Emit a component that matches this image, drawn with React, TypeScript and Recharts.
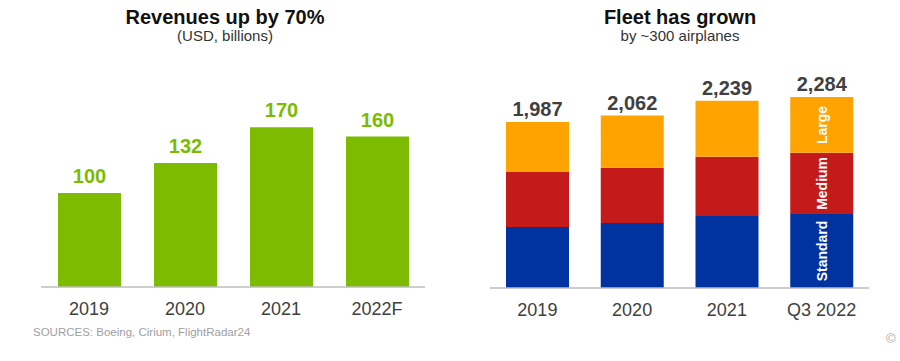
import { BarChart, Bar, XAxis, YAxis, LabelList } from 'recharts';

// revenues, USD billions
const revenueYears = ['2019', '2020', '2021', '2022F'];
const revenues = [100, 132, 170, 160];

// fleet by segment
const fleetYears = ['2019', '2020', '2021', 'Q3 2022'];
const fleetTotals = [1987, 2062, 2239, 2284];
const standardFleet = [730, 778, 862, 886];
const mediumFleet = [659, 659, 707, 731];
const largeFleet = [598, 625, 670, 667];
const segmentNames = ['Standard', 'Medium', 'Large'];

const revenueData = revenueYears.map((year, i) => ({ year, revenue: revenues[i] }));
const fleetData = fleetYears.map((year, i) => ({
  year,
  standard: standardFleet[i],
  medium: mediumFleet[i],
  large: largeFleet[i],
  total: fleetTotals[i],
}));

const FONT = '"Liberation Sans", Arial, sans-serif';
const GREEN = '#7cbb00';
const BLUE = '#0033a0';
const RED = '#c41a1a';
const ORANGE = '#ffa300';
const AXIS = '#bdbdbd';
const TEXT = '#404040';

const titleStyle = {
  position: 'absolute' as const,
  width: 450,
  textAlign: 'center' as const,
  fontFamily: FONT,
  color: '#111',
};

const segmentLabel = (name: string) => (props: any) => {
  const { x, y, width, height, index } = props;
  if (index !== fleetData.length - 1) return null;
  const cx = x + width / 2;
  const cy = y + height / 2;
  return (
    <text
      x={cx}
      y={cy}
      transform={`rotate(-90, ${cx}, ${cy})`}
      textAnchor="middle"
      dominantBaseline="central"
      fill="#fff"
      fontSize={14}
      fontWeight="bold"
      fontFamily={FONT}
    >
      {name}
    </text>
  );
};

export default function App() {
  return (
    <div style={{ position: 'absolute', left: 0, top: 0, width: 900, height: 361, overflow: 'hidden', background: '#fff', fontFamily: FONT }}>
      <div style={{ ...titleStyle, left: 0, top: 6, fontSize: 20, fontWeight: 'bold' }}>Revenues up by 70%</div>
      <div style={{ ...titleStyle, left: 0, top: 27, fontSize: 15, color: '#333' }}>(USD, billions)</div>
      <div style={{ ...titleStyle, left: 455, top: 6, fontSize: 20, fontWeight: 'bold' }}>Fleet has grown</div>
      <div style={{ ...titleStyle, left: 455, top: 27, fontSize: 15, color: '#333' }}>by ~300 airplanes</div>

      <div style={{ position: 'absolute', left: 0, top: 0 }}>
        <BarChart width={450} height={361} data={revenueData} margin={{ top: 99, right: 25, bottom: 44, left: 41 }}>
          <XAxis
            dataKey="year"
            axisLine={{ stroke: AXIS, strokeWidth: 1.5 }}
            tickLine={false}
            tickMargin={9}
            tick={{ fontSize: 18, fill: TEXT, fontFamily: FONT }}
          />
          <YAxis hide domain={[0, 200]} />
          <Bar dataKey="revenue" fill={GREEN} barSize={63} isAnimationActive={false}>
            <LabelList dataKey="revenue" position="top" offset={10} fill={GREEN} fontSize={20} fontWeight="bold" fontFamily={FONT} />
          </Bar>
        </BarChart>
      </div>

      <div style={{ position: 'absolute', left: 450, top: 0 }}>
        <BarChart width={450} height={361} data={fleetData} margin={{ top: 79, right: 31, bottom: 43, left: 40 }}>
          <XAxis
            dataKey="year"
            axisLine={{ stroke: AXIS, strokeWidth: 1.5 }}
            tickLine={false}
            tickMargin={9}
            tick={{ fontSize: 18, fill: TEXT, fontFamily: FONT }}
          />
          <YAxis hide domain={[0, 2500]} />
          <Bar dataKey="standard" stackId="fleet" fill={BLUE} barSize={63} isAnimationActive={false}>
            <LabelList dataKey="standard" content={segmentLabel(segmentNames[0])} />
          </Bar>
          <Bar dataKey="medium" stackId="fleet" fill={RED} barSize={63} isAnimationActive={false}>
            <LabelList dataKey="medium" content={segmentLabel(segmentNames[1])} />
          </Bar>
          <Bar dataKey="large" stackId="fleet" fill={ORANGE} barSize={63} isAnimationActive={false}>
            <LabelList dataKey="large" content={segmentLabel(segmentNames[2])} />
            <LabelList
              dataKey="total"
              position="top"
              offset={6}
              fill={TEXT}
              fontSize={20}
              fontWeight="bold"
              fontFamily={FONT}
              formatter={(v: any) => Number(v).toLocaleString('en-US')}
            />
          </Bar>
        </BarChart>
      </div>

      <div style={{ position: 'absolute', left: 33, top: 326, fontSize: 11.5, color: '#a0a0a0' }}>SOURCES: Boeing, Cirium, FlightRadar24</div>
      <div style={{ position: 'absolute', left: 886, top: 331, fontSize: 13, color: '#aaa' }}>©</div>
    </div>
  );
}
